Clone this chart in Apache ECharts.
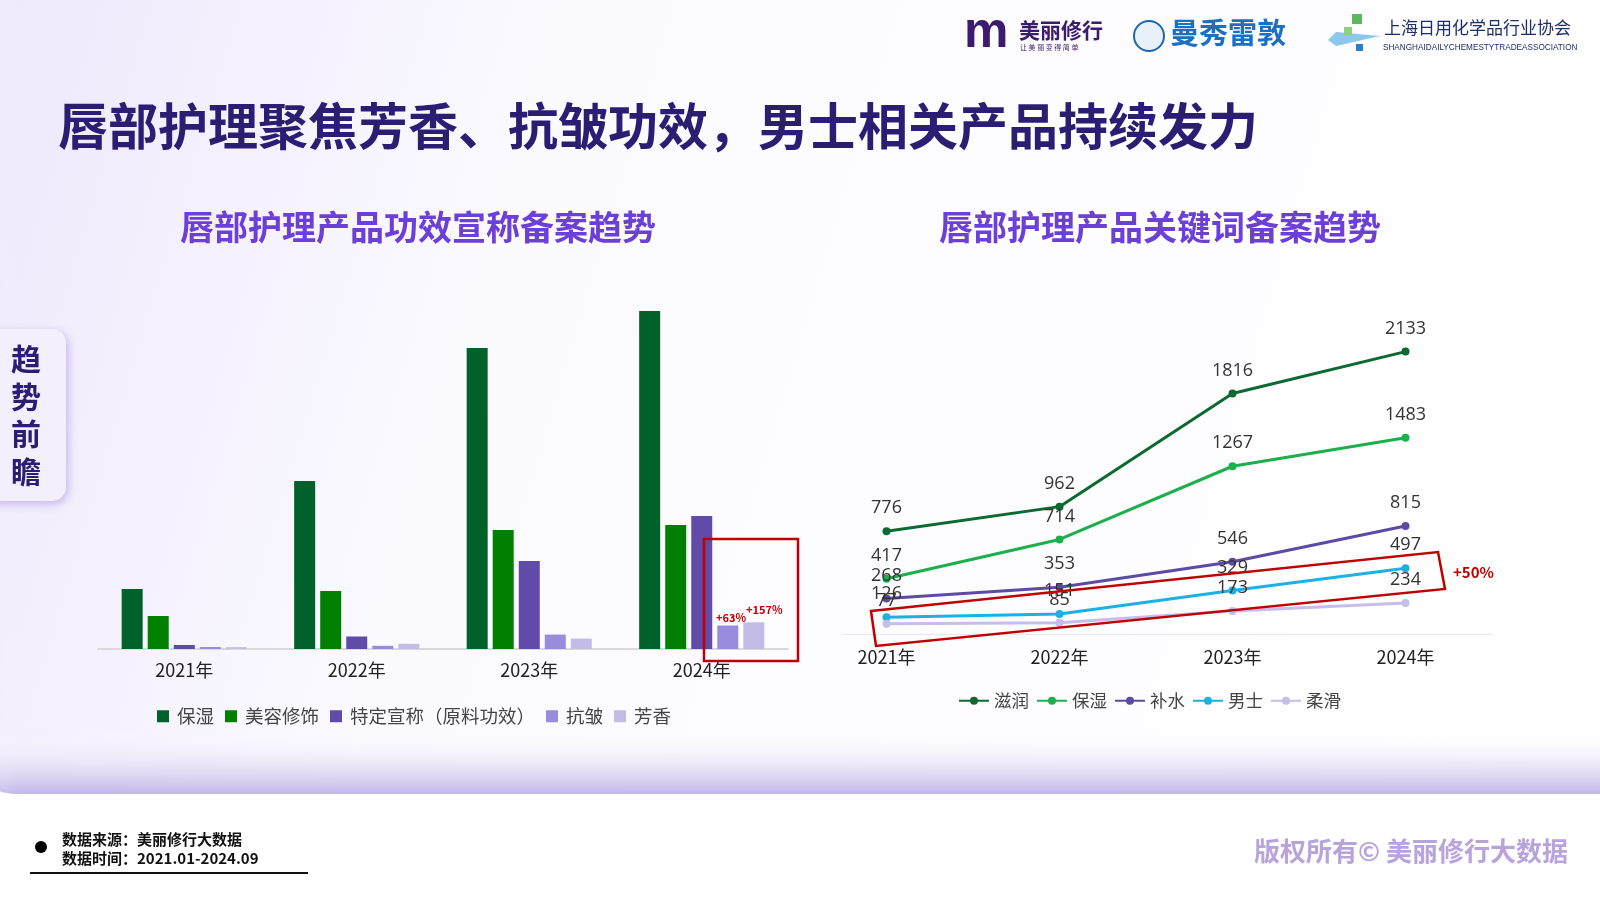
<!DOCTYPE html>
<html>
<head>
<meta charset="utf-8">
<script src="https://cdn.jsdelivr.net/npm/echarts@6/dist/echarts.min.js"></script>
<style>
html,body{margin:0;padding:0;background:#fff;}
#main{width:1600px;height:900px;}
</style>
</head>
<body>
<div id="main"></div>
<script>
// ---- data ----
const years = ['2021年', '2022年', '2023年', '2024年'];

const barNames = ['保湿', '美容修饰', '特定宣称（原料功效）', '抗皱', '芳香'];
const barMoist   = [600, 1680, 3010, 3380];
const barMakeup  = [330, 580, 1190, 1240];
const barClaim   = [40, 125, 880, 1330];
const barWrinkle = [20, 32, 144, 235];
const barFrag    = [18, 52, 104, 267];

// second "保湿" carries a zero-width space so the two legends stay separate
const lineNames = ['滋润', '保湿\u200b', '补水', '男士', '柔滑'];
const lineNourish = [776, 962, 1816, 2133];
const lineMoist   = [417, 714, 1267, 1483];
const lineHydrate = [268, 353, 546, 815];
const lineMen     = [126, 151, 329, 497];
const lineSmooth  = [77, 85, 173, 234];

const barColors  = ['#00612b', '#008000', '#604ba8', '#9a8cdc', '#c3bce6'];
const lineColors = ['#0b6a2f', '#1bb04c', '#5d4aa6', '#1cb1e4', '#c6bde8'];

const chart = echarts.init(document.getElementById('main'), null, {renderer: 'canvas'});
const FONT = '"Noto Sans CJK SC", "Noto Sans", sans-serif';

const barSeries = [barMoist, barMakeup, barClaim, barWrinkle, barFrag].map((d, i) => ({
  name: barNames[i], type: 'bar', xAxisIndex: 0, yAxisIndex: 0,
  data: d, barWidth: 21, barGap: '24%',
  itemStyle: {color: barColors[i]}
}));

const lineSeries = [lineNourish, lineMoist, lineHydrate, lineMen, lineSmooth].map((d, i) => ({
  name: lineNames[i], type: 'line', xAxisIndex: 1, yAxisIndex: 1,
  data: d, symbol: 'circle', symbolSize: 8,
  lineStyle: {width: 3, color: lineColors[i]},
  itemStyle: {color: lineColors[i]},
  label: {show: true, position: 'top', distance: 10, fontSize: 18, color: '#333', fontFamily: '"Open Sans", "Noto Sans", sans-serif'}
}));

// card shape (decoration)
const cardShape = {x: -60, y: -60, width: 1720, height: 854, r: [0, 0, 0, 80]};

const option = {
  animation: false,
  backgroundColor: '#ffffff',
  textStyle: {fontFamily: FONT},
  title: [
    {text: '唇部护理聚焦芳香、抗皱功效，男士相关产品持续发力', left: 53, top: 96,
     textStyle: {fontSize: 50, fontWeight: 'bold', color: '#2a1d72', fontFamily: FONT}},
    {text: '唇部护理产品功效宣称备案趋势', left: 413, top: 205, textAlign: 'center',
     textStyle: {fontSize: 34, fontWeight: 'bold', color: '#6c3fd8', fontFamily: FONT}},
    {text: '唇部护理产品关键词备案趋势', left: 1155, top: 205, textAlign: 'center',
     textStyle: {fontSize: 34, fontWeight: 'bold', color: '#6c3fd8', fontFamily: FONT}}
  ],
  legend: [
    {data: barNames, left: 152, top: 702, itemWidth: 12, itemHeight: 12, itemGap: 11,
     icon: 'rect', textStyle: {fontSize: 18.5, color: '#444', fontFamily: FONT, padding: [0, 0, 0, 3]}},
    {data: lineNames, left: 953, top: 687, itemWidth: 30, itemHeight: 10, itemGap: 7,
     textStyle: {fontSize: 17.5, color: '#444', fontFamily: FONT}}
  ],
  grid: [
    {left: 98, width: 690, top: 299, bottom: 251},
    {left: 800, width: 692, top: 303, bottom: 266},
    {left: 843, width: 649, top: 303, bottom: 266}
  ],
  xAxis: [
    {type: 'category', gridIndex: 0, data: years,
     axisLine: {lineStyle: {color: '#d9d9d9', width: 2}}, axisTick: {show: false},
     axisLabel: {fontSize: 18, color: '#222', margin: 12, fontFamily: FONT}},
    {type: 'category', gridIndex: 1, data: years, boundaryGap: true,
     axisLine: {show: false}, axisTick: {show: false},
     axisLabel: {fontSize: 18, color: '#222', margin: 14, fontFamily: FONT}},
    {type: 'value', gridIndex: 2, min: 0, max: 1,
     axisLine: {show: true, lineStyle: {color: '#e8e8ee', width: 1}}, axisTick: {show: false},
     axisLabel: {show: false}, splitLine: {show: false}}
  ],
  yAxis: [
    {type: 'value', gridIndex: 0, min: 0, max: 3500, show: false, splitLine: {show: false}},
    {type: 'value', gridIndex: 1, min: 0, max: 2500, show: false, splitLine: {show: false}},
    {type: 'value', gridIndex: 2, min: 0, max: 1, show: false, splitLine: {show: false}}
  ],
  series: barSeries.concat(lineSeries),
  graphic: [
    // background tint
    {type: 'rect', z: -10, silent: true, shape: cardShape,
     style: {fill: new echarts.graphic.LinearGradient(0, 0, 1, 0.6, [
       {offset: 0, color: '#ece6fb'}, {offset: 0.35, color: '#fbfaff'}, {offset: 1, color: '#ffffff'}])}},
    {type: 'rect', z: -9, silent: true, shape: cardShape,
     style: {fill: new echarts.graphic.LinearGradient(0, 0, 0, 1, [
       {offset: 0, color: 'rgba(255,255,255,0)'}, {offset: 0.925, color: 'rgba(255,255,255,0)'},
       {offset: 0.975, color: 'rgba(218,210,240,0.75)'}, {offset: 1, color: 'rgba(196,182,232,1)'}])}},
    {type: 'rect', z: -9, silent: true, shape: cardShape,
     style: {fill: new echarts.graphic.LinearGradient(0, 0, 1, 0, [
       {offset: 0, color: 'rgba(200,188,235,0.55)'}, {offset: 0.045, color: 'rgba(255,255,255,0)'},
       {offset: 1, color: 'rgba(255,255,255,0)'}])}},
    // side tab
    {type: 'rect', z: 5, shape: {x: -20, y: 329, width: 86, height: 172, r: 14},
     style: {fill: '#f4effd', shadowBlur: 10, shadowColor: 'rgba(140,110,220,0.45)', shadowOffsetX: 2, shadowOffsetY: 3}},
    {type: 'text', z: 6, left: 11, top: 340,
     style: {text: '趋\n势\n前\n瞻', fontSize: 30, lineHeight: 37.5, fontWeight: 'bold', fill: '#2a1d72', fontFamily: FONT}},
    // red annotation boxes
    {type: 'rect', z: 20, shape: {x: 704, y: 539, width: 94, height: 122},
     style: {fill: 'none', stroke: '#c00000', lineWidth: 2.5}},
    {type: 'text', z: 21, left: 716, top: 612,
     style: {text: '+63%', fontSize: 11, fontWeight: 'bold', fill: '#c00000', fontFamily: FONT}},
    {type: 'text', z: 21, left: 746, top: 604,
     style: {text: '+157%', fontSize: 11, fontWeight: 'bold', fill: '#c00000', fontFamily: FONT}},
    {type: 'polygon', z: 20, shape: {points: [[871, 611], [1438, 552], [1445, 589], [876, 646]]},
     style: {fill: 'none', stroke: '#c00000', lineWidth: 2.5}},
    {type: 'text', z: 21, left: 1453, top: 565,
     style: {text: '+50%', fontSize: 15, fontWeight: 'bold', fill: '#c00000', fontFamily: FONT}},
    // logos (text approximations)
    {type: 'text', left: 964, top: 8,
     style: {text: 'm', fontSize: 50, fontWeight: 'bold', fill: '#3c1a6e', fontFamily: 'Liberation Sans'}},
    {type: 'text', left: 1019, top: 20,
     style: {text: '美丽修行', fontSize: 21, fontWeight: 'bold', fill: '#3c1a6e', fontFamily: FONT}},
    {type: 'text', left: 1020, top: 44,
     style: {text: '让 美 丽 变 得 简 单', fontSize: 7, fill: '#3c1a6e', fontFamily: FONT}},
    {type: 'circle', shape: {cx: 1149, cy: 36, r: 15},
     style: {fill: '#e9f2fb', stroke: '#1b67b3', lineWidth: 2}},
    {type: 'text', left: 1170, top: 18,
     style: {text: '曼秀雷敦', fontSize: 29, fontWeight: 'bold', fill: '#1c6fc2', fontFamily: FONT}},
    {type: 'polygon', shape: {points: [[1336, 32], [1380, 36], [1336, 46], [1328, 40]]},
     style: {fill: '#8cc8ea'}},
    {type: 'rect', shape: {x: 1352, y: 14, width: 10, height: 10}, style: {fill: '#5cb85c'}},
    {type: 'rect', shape: {x: 1344, y: 27, width: 8, height: 8}, style: {fill: '#8fd07e'}},
    {type: 'rect', shape: {x: 1356, y: 44, width: 7, height: 7}, style: {fill: '#2a7fc9'}},
    {type: 'text', left: 1384, top: 19,
     style: {text: '上海日用化学品行业协会', fontSize: 17, fill: '#1d2f6b', fontFamily: FONT}},
    {type: 'text', left: 1383, top: 44,
     style: {text: 'SHANGHAIDAILYCHEMESTYTRADEASSOCIATION', fontSize: 8.2, fill: '#1d2f6b', fontFamily: 'Liberation Sans'}},
    // footer
    {type: 'circle', shape: {cx: 41, cy: 847, r: 6}, style: {fill: '#000'}},
    {type: 'text', left: 62, top: 830,
     style: {text: '数据来源：美丽修行大数据\n数据时间：2021.01-2024.09', fontSize: 15, lineHeight: 19, fontWeight: 'bold', fill: '#111', fontFamily: FONT}},
    {type: 'rect', shape: {x: 30, y: 872, width: 278, height: 2}, style: {fill: '#111'}},
    {type: 'text', right: 32, top: 838,
     style: {text: '版权所有© 美丽修行大数据', fontSize: 26, fontWeight: 'bold', fill: '#b8a3dc', fontFamily: FONT}}
  ]
};
chart.setOption(option);
</script>
</body>
</html>
